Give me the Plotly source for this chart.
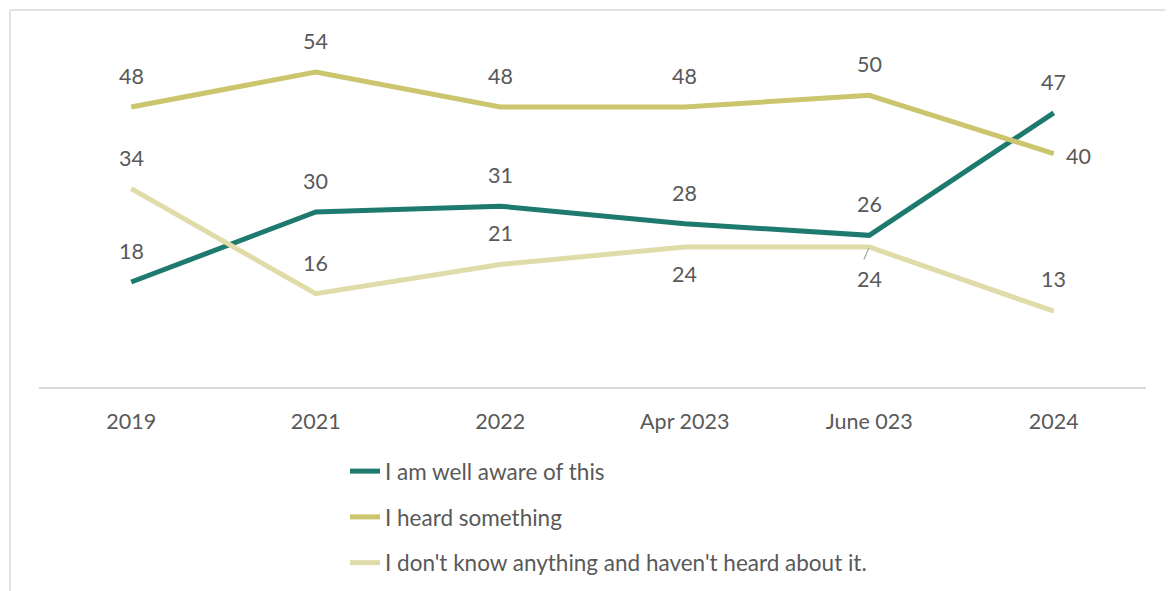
import plotly.graph_objects as go

categories = ["2019", "2021", "2022", "Apr 2023", "June 023", "2024"]
well_aware = [18, 30, 31, 28, 26, 47]
heard_something = [48, 54, 48, 48, 50, 40]
know_nothing = [34, 16, 21, 24, 24, 13]

names = ["I am well aware of this", "I heard something",
         "I don't know anything and haven't heard about it."]
colors = ["#1E7A6E", "#CBC56E", "#E0DCA9"]
series = [well_aware, heard_something, know_nothing]

# label offsets (px) per series/point: (xshift, yshift)
offsets = [
    [(0, 31)] * 6,
    [(0, 31)] * 5 + [(25, -2)],
    [(0, 31), (0, 31), (0, 32), (0, -27), (0, -32), (0, 32)],
]

FONT = "Lato, Calibri, Carlito, sans-serif"
FS = 21.5
TXT = "#595959"

fig = go.Figure()
for name, vals, col in zip(names, series, colors):
    fig.add_trace(go.Scatter(
        x=categories, y=vals, mode="lines", name=name,
        line=dict(color=col, width=5, shape="linear"),
        legendgroup=name, hoverinfo="skip",
    ))

annotations = []
for vals, offs in zip(series, offsets):
    for i, (v, (dx, dy)) in enumerate(zip(vals, offs)):
        annotations.append(dict(
            x=i, y=v, xref="x", yref="y", text=str(v), showarrow=False,
            xshift=dx, yshift=dy,
            font=dict(family=FONT, size=FS, color=TXT),
        ))
# leader line for June 2023 "don't know" label
annotations.append(dict(
    x=4, y=know_nothing[4], xref="x", yref="y", ax=-6, ay=14,
    text="", showarrow=True, arrowhead=0, arrowwidth=1.2, arrowcolor="#A6A6A6",
    standoff=1,
))

OFF = 8  # page body margin
W, H = 1173 - OFF, 591 - OFF
ml, mr, mt, mb = 39 - OFF, 27, 37 - OFF, 591 - 387
pw, ph = W - ml - mr, H - mt - mb

def px_x(p):
    return (p - OFF - ml) / pw

def px_y(p):
    return (H - mb - (p - OFF)) / ph

shapes = [
    dict(type="line", xref="paper", yref="paper", x0=px_x(10), x1=px_x(10),
         y0=px_y(10), y1=px_y(620), line=dict(color="#D9D9D9", width=1.5)),
    dict(type="line", xref="paper", yref="paper", x0=px_x(10), x1=px_x(1200),
         y0=px_y(10), y1=px_y(10), line=dict(color="#D9D9D9", width=1.5)),
]

fig.update_layout(
    width=W, height=H,
    margin=dict(l=ml, r=mr, t=mt, b=mb, autoexpand=False),
    paper_bgcolor="white", plot_bgcolor="white",
    font=dict(family=FONT, size=FS, color=TXT),
    showlegend=True,
    legend=dict(
        orientation="v", x=px_x(345), xanchor="left", y=px_y(450), yanchor="top",
        font=dict(family=FONT, size=22.5, color=TXT),
        traceorder="grouped", tracegroupgap=13.5, bgcolor="rgba(0,0,0,0)",
    ),
    xaxis=dict(
        type="category", range=[-0.5, 5.5], showgrid=False, zeroline=False,
        showline=True, linecolor="#D9D9D9", linewidth=1.5,
        ticks="", ticklabelstandoff=14,
        tickfont=dict(family=FONT, size=FS, color=TXT),
    ),
    yaxis=dict(range=[0, 60], visible=False, showgrid=False, zeroline=False),
    annotations=annotations,
    shapes=shapes,
)

fig.write_html("out.html")
